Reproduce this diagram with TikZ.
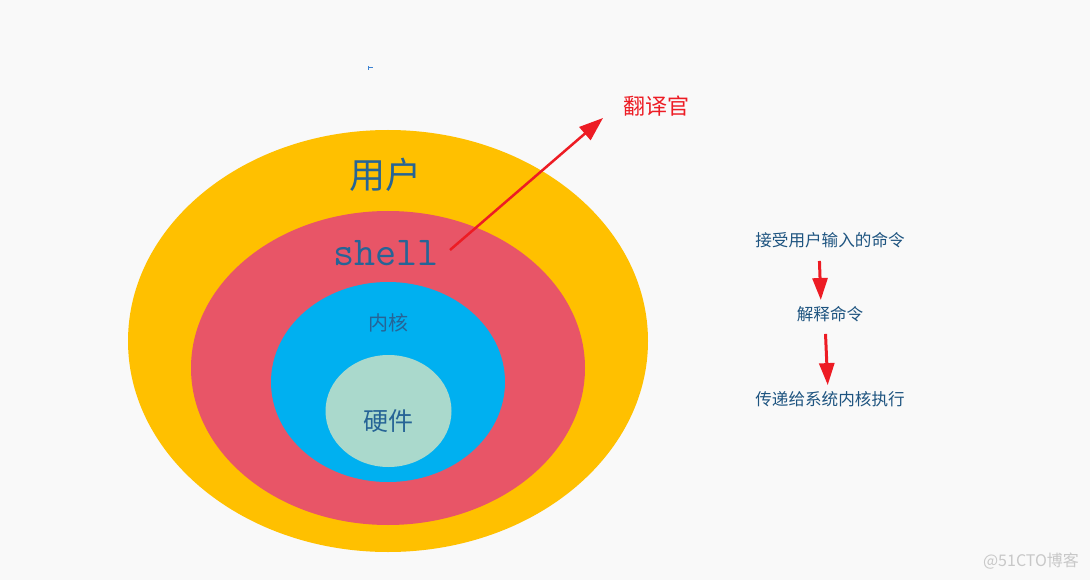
\documentclass[tikz,border=0pt]{standalone}
\usepackage{fontspec}
\usepackage{xcolor}
\usepackage{tikz}
\usetikzlibrary{arrows.meta}
\newfontfamily\cjk{Noto Sans CJK SC}

\begin{document}
\begin{tikzpicture}[x=1pt,y=-1pt,
    layertext/.style={text=layerblue, inner sep=0pt},
    steptext/.style={text=stepblue, inner sep=0pt, font=\cjk\fontsize{16.6}{17}\selectfont},
    redarrow/.style={draw=arrowred, line width=3pt, -{Triangle[length=22pt,width=15pt]}}]
    % Define colors
    \definecolor{paper}{RGB}{249,249,249}
    \definecolor{userlayer}{RGB}{255,192,0}
    \definecolor{shelllayer}{RGB}{232,85,103}
    \definecolor{kernellayer}{RGB}{0,176,240}
    \definecolor{hwlayer}{RGB}{170,217,204}
    \definecolor{layerblue}{RGB}{38,100,150}
    \definecolor{stepblue}{RGB}{30,84,128}
    \definecolor{arrowred}{RGB}{237,28,36}
    \definecolor{markgray}{RGB}{200,200,200}

    % Background
    \fill[paper] (0,0) rectangle (1090,580);
    \useasboundingbox (0,0) rectangle (1090,580);
    \draw[line width=1pt, draw={rgb,255:red,60;green,130;blue,210}] (368,66) -- (368,70) (368,68) -- (373,68);

    % Layers, outside in
    \fill[userlayer] (388,341) ellipse [x radius=260, y radius=211];
    \fill[shelllayer] (388,368) ellipse [x radius=197, y radius=157];
    \fill[kernellayer] (388,382) ellipse [x radius=117, y radius=100];
    \fill[hwlayer] (388.5,411) ellipse [x radius=63, y radius=56];

    \node[layertext, font=\cjk\fontsize{36}{36}\selectfont] (user) at (385,175) {用户};
    \node[layertext, font=\fontsize{41}{41}\ttfamily] (shell) at (386,253) {shell};
    \node[layertext, font=\cjk\fontsize{20}{20}\selectfont] (kernel) at (388,323) {内核};
    \node[layertext, font=\cjk\fontsize{25}{25}\selectfont] (hw) at (388,421) {硬件};

    % Translator arrow
    \coordinate (shellend) at (450,250);
    \node[text=arrowred, inner sep=0pt, font=\cjk\fontsize{22}{22}\selectfont] (translator) at (656,106) {翻译官};
    \coordinate (tip) at (603,118);
    \draw[draw=arrowred, line width=2.5pt, -{Triangle[length=24pt,width=17pt]}] (shellend) -- (tip);

    % Steps on the right
    \node[steptext] (accept) at (830,240) {接受用户输入的命令};
    \node[steptext] (explain) at (830,314) {解释命令};
    \node[steptext] (pass) at (830,399) {传递给系统内核执行};
    \draw[redarrow, shorten <=13pt, shorten >=6pt] ([xshift=-11pt]accept.south) -- ([xshift=-9pt]explain.north);
    \draw[redarrow, shorten <=12pt, shorten >=6pt] ([xshift=-5pt]explain.south) -- ([xshift=-2pt]pass.north);

    % Watermark
    \node[text=markgray, inner sep=0pt, font=\cjk\fontsize{16}{16}\selectfont] (mark) at (1031,561) {@51CTO博客};
\end{tikzpicture}
\end{document}
